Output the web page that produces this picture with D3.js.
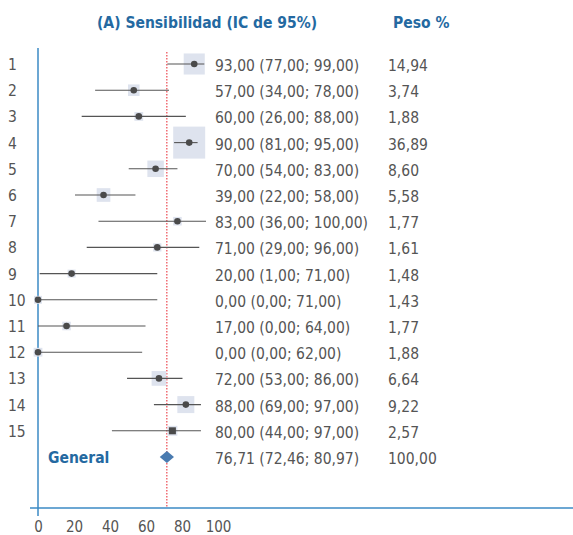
<!DOCTYPE html>
<html>
<head>
<meta charset="utf-8">
<script src="https://cdn.jsdelivr.net/npm/d3@7"></script>
<style>
  body { margin: 0; background: #fff; }
  svg { display: block; font-family: "DejaVu Sans Condensed", "Liberation Sans Narrow", sans-serif; }
</style>
</head>
<body>
<svg id="chart"></svg>
<script>
// study data (sensitivity, 95% CI, weight)
const studies = ['1','2','3','4','5','6','7','8','9','10','11','12','13','14','15'];
const sensitivity = [93, 57, 60, 90, 70, 39, 83, 71, 20, 0, 17, 0, 72, 88, 80];
const lowerCI = [77, 34, 26, 81, 54, 22, 36, 29, 1, 0, 0, 0, 53, 69, 44];
const upperCI = [99, 78, 88, 95, 83, 58, 100, 96, 71, 71, 64, 62, 86, 97, 97];
const weights = [14.94, 3.74, 1.88, 36.89, 8.60, 5.58, 1.77, 1.61, 1.48, 1.43, 1.77, 1.88, 6.64, 9.22, 2.57];

const overallLabel = 'General';
const overall = [76.71, 72.46, 80.97, 100];  // estimate, lower, upper, weight
const xTicks = [0, 20, 40, 60, 80, 100];

const titleText = '(A) Sensibilidad (IC de 95%)';
const weightTitle = 'Peso %';

const width = 573, height = 535;
const blue = '#2469a1';
const axisBlue = '#3b8ac4';
const grey = '#555555';
const fs = '15.5px';

const loc = d3.formatLocale({decimal: ',', thousands: '.', grouping: [3], currency: ['', '']});
const fmt = loc.format('.2f');

const data = studies.map((s, i) => ({
  study: s, est: sensitivity[i], lo: lowerCI[i], hi: upperCI[i], w: weights[i], i: i
}));

const svg = d3.select('#chart')
  .attr('width', width)
  .attr('height', height);

// scales
const x = d3.scaleLinear().domain([0, 100]).range([38, 206]);
const xLabels = d3.scaleLinear().domain([0, 100]).range([38, 218]);
const y = d3.scalePoint().domain(studies.concat([overallLabel])).range([64, 457]);
const boxSize = d3.scaleSqrt().domain([0, d3.max(weights)]).range([2, 32]);

// headers
svg.append('text')
  .attr('x', 97).attr('y', 28)
  .style('font-size', '15.5px').style('font-weight', 'bold')
  .attr('fill', blue)
  .text(titleText);

svg.append('text')
  .attr('x', 393).attr('y', 28)
  .style('font-size', '15.5px').style('font-weight', 'bold')
  .attr('fill', blue)
  .text(weightTitle);

// axes lines
svg.append('line')
  .attr('x1', 30).attr('x2', width)
  .attr('y1', 508).attr('y2', 508)
  .attr('stroke', axisBlue).attr('stroke-width', 1.5);

svg.append('line')
  .attr('x1', x(0)).attr('x2', x(0))
  .attr('y1', 48).attr('y2', 516)
  .attr('stroke', axisBlue).attr('stroke-width', 1.5);

// x tick labels
const xAxis = d3.axisBottom(xLabels).tickValues(xTicks).tickSize(0).tickPadding(0);
const gx = svg.append('g')
  .attr('transform', 'translate(0,520)')
  .call(xAxis);
gx.select('.domain').remove();
gx.selectAll('text')
  .attr('dy', '0.8em')
  .style('font-family', '"DejaVu Sans Condensed", sans-serif')
  .style('font-size', '15px')
  .attr('fill', grey);

// overall reference line
svg.append('line')
  .attr('x1', x(overall[0])).attr('x2', x(overall[0]))
  .attr('y1', 52).attr('y2', 508)
  .attr('stroke', '#e8202a').attr('stroke-width', 1)
  .attr('stroke-dasharray', '1.5,1.5');

// rows
const rows = svg.append('g').selectAll('g')
  .data(data)
  .enter()
  .append('g')
  .attr('transform', d => `translate(0,${y(d.study)})`);

rows.append('text')
  .attr('x', 8).attr('y', 6)
  .style('font-size', '15.5px')
  .attr('fill', grey)
  .text(d => d.study);

rows.append('rect')
  .attr('x', d => x(d.est) - boxSize(d.w) / 2)
  .attr('y', d => -boxSize(d.w) / 2)
  .attr('width', d => boxSize(d.w))
  .attr('height', d => boxSize(d.w))
  .attr('fill', '#dee3ee');

rows.append('line')
  .attr('x1', d => x(d.lo)).attr('x2', d => x(d.hi))
  .attr('y1', 0).attr('y2', 0)
  .attr('stroke', grey).attr('stroke-width', 1.1);

rows.filter(d => d.i < studies.length - 1)
  .append('circle')
  .attr('cx', d => x(d.est)).attr('cy', 0)
  .attr('r', 3.3)
  .attr('fill', '#4a4a4a');

rows.filter(d => d.i === studies.length - 1)
  .append('rect')
  .attr('x', d => x(d.est) - 3.5).attr('y', -3.5)
  .attr('width', 7).attr('height', 7)
  .attr('fill', '#4a4a4a');

rows.append('text')
  .attr('x', 215).attr('y', 7)
  .style('font-size', fs)
  .attr('fill', grey)
  .text(d => `${fmt(d.est)} (${fmt(d.lo)}; ${fmt(d.hi)})`);

rows.append('text')
  .attr('x', 388).attr('y', 7)
  .style('font-size', fs)
  .attr('fill', grey)
  .text(d => fmt(d.w));

// overall row
const yo = y(overallLabel);
svg.append('text')
  .attr('x', 48).attr('y', yo + 6)
  .style('font-size', '15.5px').style('font-weight', 'bold')
  .attr('fill', blue)
  .text(overallLabel);

svg.append('path')
  .attr('d', `M${x(overall[1])},${yo} L${x(overall[0])},${yo - 6} L${x(overall[2])},${yo} L${x(overall[0])},${yo + 6} Z`)
  .attr('fill', '#4a7bb0');

svg.append('text')
  .attr('x', 215).attr('y', yo + 7)
  .style('font-size', fs)
  .attr('fill', grey)
  .text(`${fmt(overall[0])} (${fmt(overall[1])}; ${fmt(overall[2])})`);

svg.append('text')
  .attr('x', 388).attr('y', yo + 7)
  .style('font-size', fs)
  .attr('fill', grey)
  .text(fmt(overall[3]));
</script>
</body>
</html>
